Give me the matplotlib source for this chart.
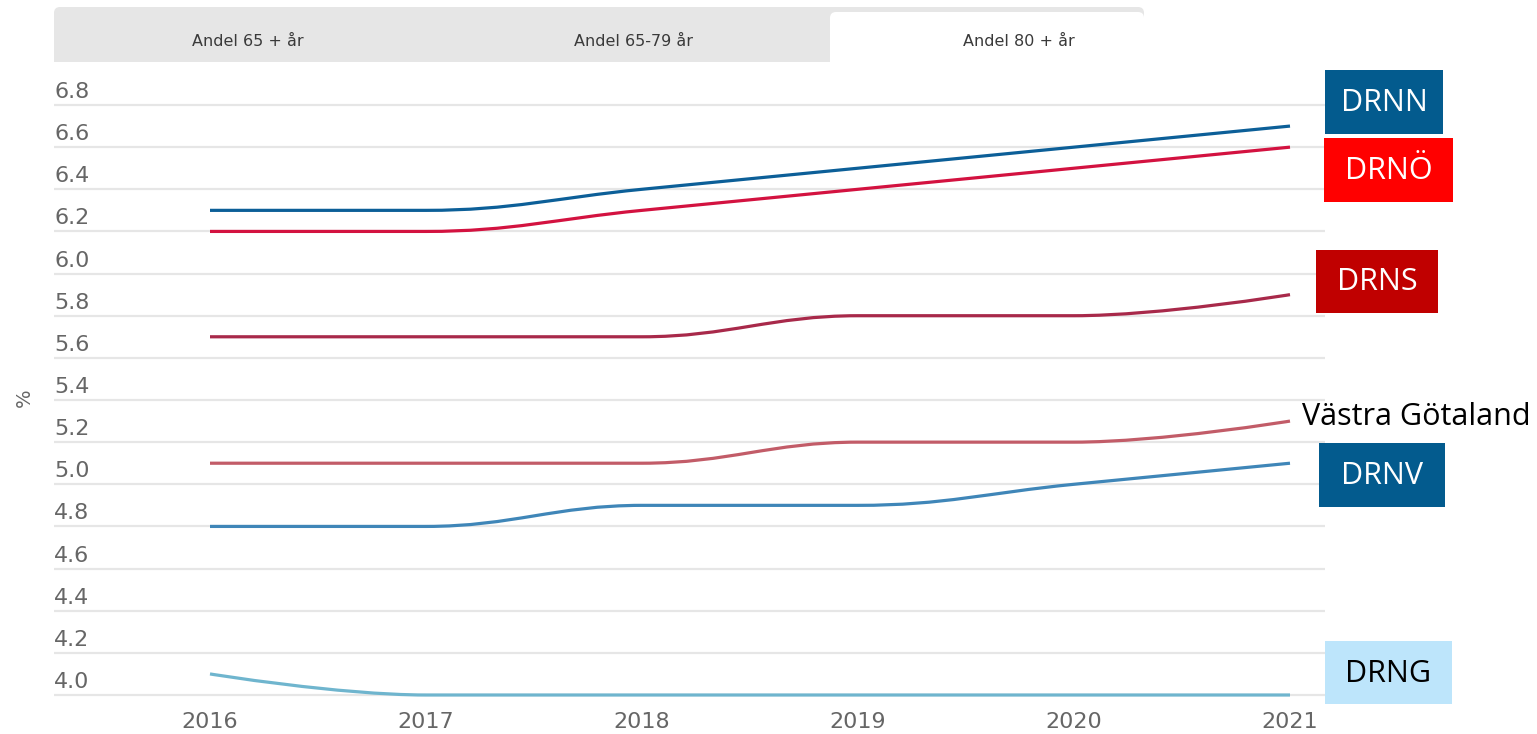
import matplotlib
matplotlib.use('Agg')
import matplotlib.pyplot as plt
from matplotlib.path import Path
from matplotlib.patches import PathPatch, Rectangle, FancyBboxPatch

years = [2016, 2017, 2018, 2019, 2020, 2021]
drnn = [6.3, 6.3, 6.4, 6.5, 6.6, 6.7]
drno = [6.2, 6.2, 6.3, 6.4, 6.5, 6.6]
drns = [5.7, 5.7, 5.7, 5.8, 5.8, 5.9]
vgr = [5.1, 5.1, 5.1, 5.2, 5.2, 5.3]
drnv = [4.8, 4.8, 4.9, 4.9, 5.0, 5.1]
drng = [4.1, 4.0, 4.0, 4.0, 4.0, 4.0]
yticks = [4.0, 4.2, 4.4, 4.6, 4.8, 5.0, 5.2, 5.4, 5.6, 5.8, 6.0, 6.2, 6.4, 6.6, 6.8]
tabs = ['Andel 65 + år', 'Andel 65-79 år', 'Andel 80 + år']

series = [
    (drnn, '#0c5f98'),
    (drno, '#d31240'),
    (drns, '#a8294a'),
    (vgr, '#c25c68'),
    (drnv, '#3f86b8'),
    (drng, '#6fb5ce'),
]


def spline(xs, ys, s=1.5):
    # highcharts-like spline control points
    n = len(xs)
    left = list(zip(xs, ys))
    right = list(zip(xs, ys))
    for i in range(1, n - 1):
        lx = (s * xs[i] + xs[i - 1]) / (s + 1)
        ly = (s * ys[i] + ys[i - 1]) / (s + 1)
        rx = (s * xs[i] + xs[i + 1]) / (s + 1)
        ry = (s * ys[i] + ys[i + 1]) / (s + 1)
        corr = (ry - ly) * (rx - xs[i]) / (rx - lx) + ys[i] - ry
        ly += corr
        ry += corr
        if ly > ys[i - 1] and ly > ys[i]:
            ly = max(ys[i - 1], ys[i]); ry = 2 * ys[i] - ly
        elif ly < ys[i - 1] and ly < ys[i]:
            ly = min(ys[i - 1], ys[i]); ry = 2 * ys[i] - ly
        if ry > ys[i + 1] and ry > ys[i]:
            ry = max(ys[i + 1], ys[i]); ly = 2 * ys[i] - ry
        elif ry < ys[i + 1] and ry < ys[i]:
            ry = min(ys[i + 1], ys[i]); ly = 2 * ys[i] - ry
        left[i] = (lx, ly)
        right[i] = (rx, ry)
    verts = [(xs[0], ys[0])]
    codes = [Path.MOVETO]
    for i in range(n - 1):
        verts += [right[i], left[i + 1], (xs[i + 1], ys[i + 1])]
        codes += [Path.CURVE4] * 3
    return Path(verts, codes)


W, H = 1537, 734
fig = plt.figure(figsize=(W / 100, H / 100), dpi=100)

y0, y1 = 3.98, 6.82
px_per = (695 - 105) / 2.8
top_px = 105 - (y1 - 6.8) * px_per
bot_px = 695 + (4.0 - y0) * px_per
ax = fig.add_axes([54 / W, (H - bot_px) / H, (1325 - 54) / W, (bot_px - top_px) / H])
ax.set_xlim(2016 - 156 / 216, 2021 + 35 / 216)
ax.set_ylim(y0, y1)

for v in yticks:
    ax.axhline(v, color='#e6e6e6', lw=1.6, zorder=1)
    ax.annotate(f'{v:.1f}', xy=(0, v), xycoords=ax.get_yaxis_transform(),
                xytext=(0, 5), textcoords='offset points', va='baseline', ha='left',
                fontsize=16, color='#666666', family='DejaVu Sans')

for ys, c in series:
    ax.add_patch(PathPatch(spline(years, ys), fill=False, edgecolor=c, lw=2.3,
                           capstyle='butt', zorder=3))

ax.set_yticks([])
ax.set_xticks(years)
ax.set_xticklabels([str(y) for y in years], fontsize=16, color='#666666')
ax.tick_params(axis='x', length=0, pad=9)
for sp in ax.spines.values():
    sp.set_visible(False)

fig.text(24 / W, 1 - 398 / H, '%', rotation=90, fontsize=14, color='#666666',
         ha='center', va='center')

# overlay in pixel coordinates for tabs and labels
ov = fig.add_axes([0, 0, 1, 1], facecolor='none')
ov.set_xlim(0, W)
ov.set_ylim(H, 0)
ov.axis('off')

ov.add_patch(FancyBboxPatch((54, 7), 1090, 55, boxstyle='round,pad=0,rounding_size=6',
                            fc='#e6e6e6', ec='none'))
ov.add_patch(Rectangle((54, 40), 1090, 22, fc='#e6e6e6', ec='none'))
ov.add_patch(FancyBboxPatch((830, 12), 314, 50, boxstyle='round,pad=0,rounding_size=6',
                            fc='white', ec='none'))
ov.add_patch(Rectangle((830, 40), 314, 23, fc='white', ec='none'))
for x, t in zip([248, 633, 1019], tabs):
    ov.text(x, 41, t, ha='center', va='center', fontsize=11.5, color='#3a3a3a')

boxes = [
    ('DRNN', 1325, 70, 118, 64, '#035b8e', 'white'),
    ('DRNÖ', 1324, 138, 129, 64, '#ff0000', 'white'),
    ('DRNS', 1316, 250, 122, 63, '#c00000', 'white'),
    ('DRNV', 1319, 443, 126, 64, '#035b8e', 'white'),
    ('DRNG', 1325, 641, 127, 63, '#bde5fb', 'black'),
]
for t, x, y, w, h, fc, tc in boxes:
    ov.add_patch(Rectangle((x, y), w, h, fc=fc, ec='none'))
    ov.text(x + w / 2, y + h / 2 + 1, t, ha='center', va='center', fontsize=22,
            color=tc, family='Open Sans')
ov.text(1302, 425, 'Västra Götaland', ha='left', va='baseline', fontsize=22,
        color='black', family='Open Sans')

fig.savefig('out.png', dpi=100)
